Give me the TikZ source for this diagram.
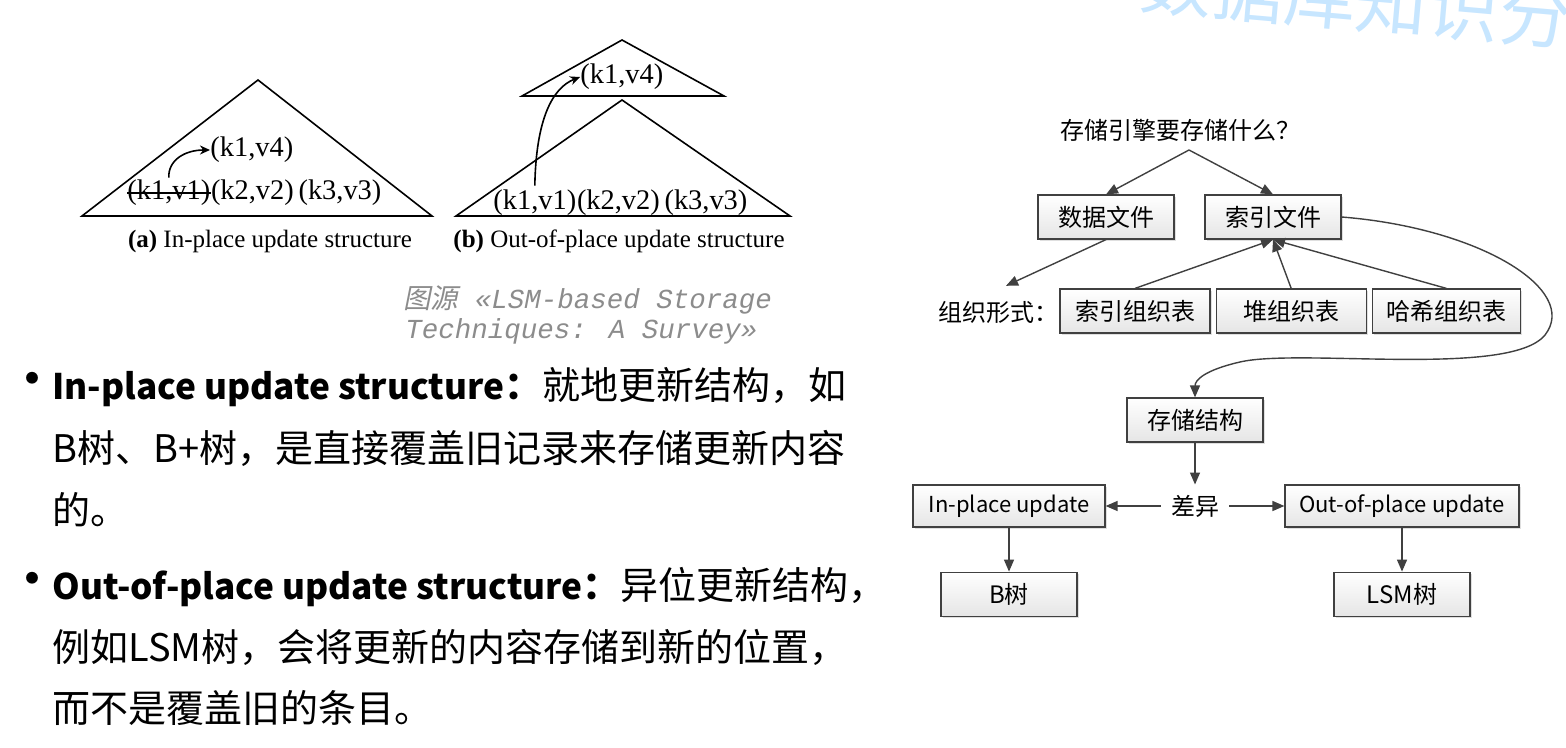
\documentclass[tikz,border=0pt]{standalone}
\usepackage{fontspec}
\setmainfont{Liberation Serif}
\newfontfamily\cjk{Noto Sans CJK SC}
\newfontfamily\cjkit[FakeSlant=0.2]{Noto Sans CJK SC}
\newfontfamily\citefont{Liberation Mono}
\usetikzlibrary{positioning,arrows.meta,shadows}
\newcommand\headword[1]{{\fontsize{17.6}{22}\selectfont\bfseries #1}}

\begin{document}
\begin{tikzpicture}[x=0.5pt,y=-0.5pt,
  box/.style = {draw=black!75, line width=0.6pt, top color=white, bottom color=black!10,
    drop shadow={opacity=0.25, shadow xshift=1pt, shadow yshift=-1pt},
    minimum width=68pt, minimum height=22pt, inner sep=2pt, font=\cjk\fontsize{12}{14}\selectfont},
  lbl/.style = {font=\cjk\fontsize{12}{14}\selectfont},
  arr/.style = {draw=black!75, line width=0.7pt, -{Triangle[length=6pt,width=5pt]}},
  kv/.style = {inner sep=0pt, anchor=west, font=\fontsize{14.2}{16}\selectfont},
  caption/.style = {font=\fontsize{12.5}{14}\selectfont},
  tri/.style = {line width=0.8pt},
  para/.style = {anchor=base west, inner sep=0pt, font=\cjk\fontsize{19}{22}\selectfont},
  bullet/.style = {inner sep=0pt, font=\cjk\fontsize{28}{28}\selectfont},
  src/.style = {anchor=base west, inner sep=0pt, text=black!45, font=\citefont\itshape\fontsize{13.75}{16}\selectfont}]
  \fill[white] (0,0) rectangle (1566,748);
  \useasboundingbox (0,0) rectangle (1566,748);

  % watermark
  \node[font=\cjk\fontsize{36}{36}\selectfont, text=blue!45!cyan!22, rotate=-5] (wm) at (1392,2) {数据库知识分享};

  % (a) in-place tree
  \draw[tri] (82,216) -- (258,80) -- (432,216) -- cycle;
  \node[kv] (a1) at (127,193) {(k1,v1)};
  \node[kv] (a2) at (a1.east) {(k2,v2)\,(k3,v3)};
  \node[kv] (a4) at (210,150) {(k1,v4)};
  \draw[line width=0.7pt] (a1.west) -- (a1.east);
  \draw[line width=0.8pt, -{Stealth[length=5pt,width=4.5pt]}] ([yshift=1pt]a1.north) .. controls (168,160) and (185,150) .. (a4.west);
  \node[caption] (capa) at (270,241) {\textbf{(a)} In-place update structure};

  % (b) out-of-place trees
  \draw[tri] (522,96) -- (622,40) -- (724,96) -- cycle;
  \draw[tri] (456,216) -- (622,100) -- (790,216) -- cycle;
  \node[kv] (b1) at (493,203) {(k1,v1)};
  \node[kv] (b2) at (b1.east) {(k2,v2)\,(k3,v3)};
  \node[kv] (b4) at (580,77) {(k1,v4)};
  \draw[line width=0.8pt, -{Stealth[length=5pt,width=4.5pt]}] ([yshift=2pt]b1.north) .. controls (536,120) and (552,88) .. (b4.west);
  \node[caption] (capb) at (619,241) {\textbf{(b)} Out-of-place update structure};

  % source
  \node[src] (src1) at (403,308) {{\cjkit 图源} «LSM-based Storage};
  \node[src] (src2) at (405,338) {Techniques: A Survey»};

  % bullets
  \node[bullet] (dot1) at (32,386) {•};
  \node[para] (l1) at (52,399) {\headword{In-place update structure}\textbf{：}就地更新结构，如};
  \node[para] (l2) at (52,462) {B树、B+树，是直接覆盖旧记录来存储更新内容};
  \node[para] (l3) at (52,524) {的。};
  \node[bullet] (dot2) at (32,586) {•};
  \node[para] (l4) at (52,599) {\headword{Out-of-place update structure}\textbf{：}异位更新结构，};
  \node[para] (l5) at (52,661) {例如LSM树，会将更新的内容存储到新的位置，};
  \node[para] (l6) at (52,722) {而不是覆盖旧的条目。};

  % storage engine diagram
  \node[lbl] (q) at (1180,130) {存储引擎要存储什么？};
  \coordinate (top) at (1189,150);
  \node[box] (data) at (1106,217) {数据文件};
  \node[box] (idx) at (1273,217) {索引文件};
  \node[lbl] (form) at (998,312) {组织形式：};
  \node[box, minimum width=75pt] (iot) at (1135,311) {索引组织表};
  \node[box, minimum width=75pt, right=2.5pt of iot] (heap) {堆组织表};
  \node[box, minimum width=74pt, right=2.5pt of heap] (hash) {哈希组织表};
  \node[box] (store) at (1195,420) {存储结构};
  \node[lbl, inner sep=5pt] (diff) at (1195,506) {差异};
  \node[box, minimum width=96pt, minimum height=21pt, font=\cjk\fontsize{11}{13}\selectfont] (inp) at (1009,506) {In-place update};
  \node[box, minimum width=117pt, minimum height=21pt, font=\cjk\fontsize{11}{13}\selectfont] (outp) at (1402,506) {Out-of-place update};
  \node[box, below=22pt of inp] (bt) {B树};
  \node[box, below=22pt of outp] (lsm) {LSM树};

  \draw[arr] (top) -- (data.north);
  \draw[arr] (top) -- (idx.north);
  \draw[arr] (data.south) -- ([xshift=4pt,yshift=4pt]form.north);
  \draw[arr] (iot.north) -- (idx.south);
  \draw[arr] (heap.north) -- (idx.south);
  \draw[arr] (hash.north) -- (idx.south);
  \draw[arr] (idx.east) .. controls (1480,228) and (1580,290) .. (1545,335)
    .. controls (1510,378) and (1300,348) .. (1240,362)
    .. controls (1205,370) and (1195,380) .. (store.north);
  \draw[arr] (store.south) -- (diff.north);
  \draw[arr] (diff.west) -- (inp.east);
  \draw[arr] (diff.east) -- (outp.west);
  \draw[arr] (inp.south) -- (bt.north);
  \draw[arr] (outp.south) -- (lsm.north);
\end{tikzpicture}
\end{document}
